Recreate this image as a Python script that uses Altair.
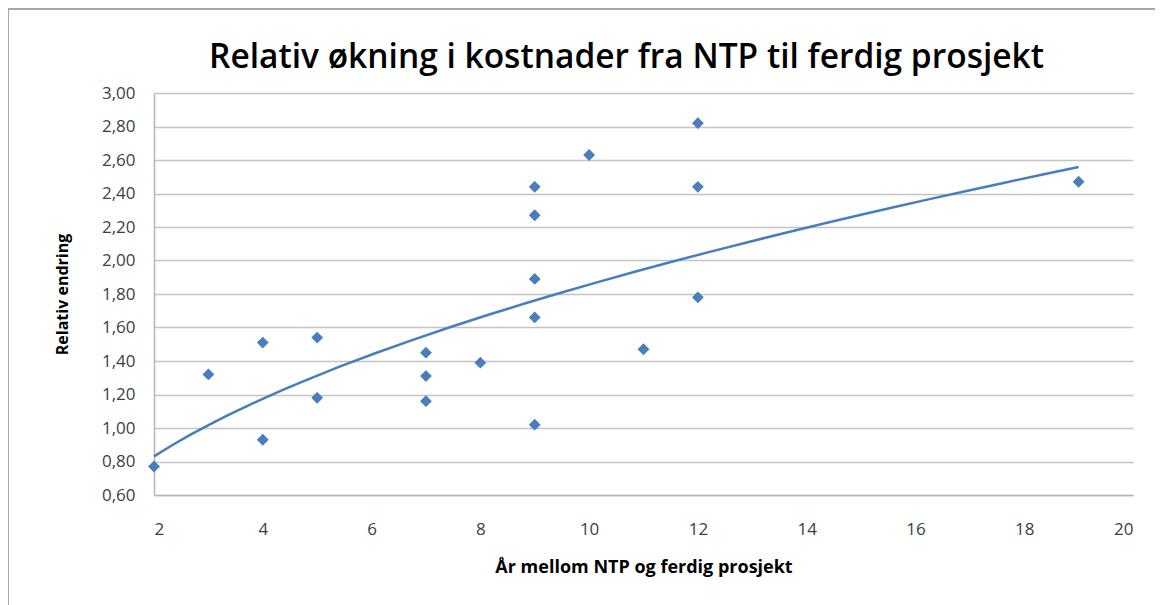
import altair as alt
import pandas as pd

years = [2, 3, 4, 4, 5, 5, 7, 7, 7, 8, 9, 9, 9, 9, 9, 10, 11, 12, 12, 12, 19]
relative_change = [0.77, 1.32, 1.51, 0.93, 1.54, 1.18, 1.45, 1.31, 1.16, 1.39,
                   2.44, 2.27, 1.89, 1.66, 1.02, 2.63, 1.47, 2.82, 2.44, 1.78, 2.47]
x_ticks = [2, 4, 6, 8, 10, 12, 14, 16, 18, 20]
y_ticks = [0.6, 0.8, 1.0, 1.2, 1.4, 1.6, 1.8, 2.0, 2.2, 2.4, 2.6, 2.8, 3.0]

title_text = "Relativ økning i kostnader fra NTP til ferdig prosjekt"
x_title = "År mellom NTP og ferdig prosjekt"
y_title = "Relativ endring"

df = pd.DataFrame({"x": years, "y": relative_change})

BLUE = "#4a7ebb"
FONT = "Open Sans"
W, H = 979, 402

x_enc = alt.X("x:Q", scale=alt.Scale(domain=[2, 20], nice=False, zero=False),
              axis=alt.Axis(values=x_ticks, title=x_title, grid=False, ticks=False,
                            labelPadding=26, titlePadding=21, domainColor="#b5b5b5",
                            domainWidth=1.5, labelOverlap=False))
y_enc = alt.Y("y:Q", scale=alt.Scale(domain=[0.6, 3.0], nice=False, zero=False),
              axis=alt.Axis(values=y_ticks, title=y_title, grid=True, ticks=False,
                            labelPadding=19, titlePadding=31, domainColor="#b5b5b5",
                            domainWidth=1.5, labelOverlap=False, tickCount=13,
                            labelExpr="replace(format(datum.value, '.2f'), '.', ',')"))

points = alt.Chart(df).mark_point(shape="diamond", filled=True, size=140,
                                  color=BLUE, opacity=1).encode(x=x_enc, y=y_enc)

trend = alt.Chart(df).transform_regression(
    "x", "y", method="pow"
).mark_line(color=BLUE, strokeWidth=2.5).encode(x="x:Q", y="y:Q")

one = pd.DataFrame({"a": [0]})
frame = alt.Chart(one).mark_rect(
    fill=None, stroke="#a8a8a8", strokeWidth=2
).encode(x=alt.value(-146), x2=alt.value(W + 60), y=alt.value(-84), y2=alt.value(H + 160))

title = alt.Chart(one).mark_text(
    text=title_text, font=FONT, fontSize=33.5, fontWeight=600, color="#000000",
    align="center", baseline="middle"
).encode(x=alt.value(W / 2 - 17), y=alt.value(-35))

chart = alt.layer(frame, points, trend, title).properties(
    width=W, height=H,
    autosize=alt.AutoSizeParams(type="none"),
    padding={"left": 146, "top": 85, "right": 22, "bottom": 110},
).configure_view(stroke=None).configure_axis(
    labelFont=FONT, titleFont=FONT, labelFontSize=17, labelColor="#404040",
    titleColor="#000000", gridColor="#c4c4c4", gridWidth=1.5
).configure_axisX(titleFontSize=18, titleFontWeight="bold").configure_axisY(
    titleFontSize=16, titleFontWeight="bold"
)

chart.save("out.html", embed_options={"renderer": "svg", "actions": False})
